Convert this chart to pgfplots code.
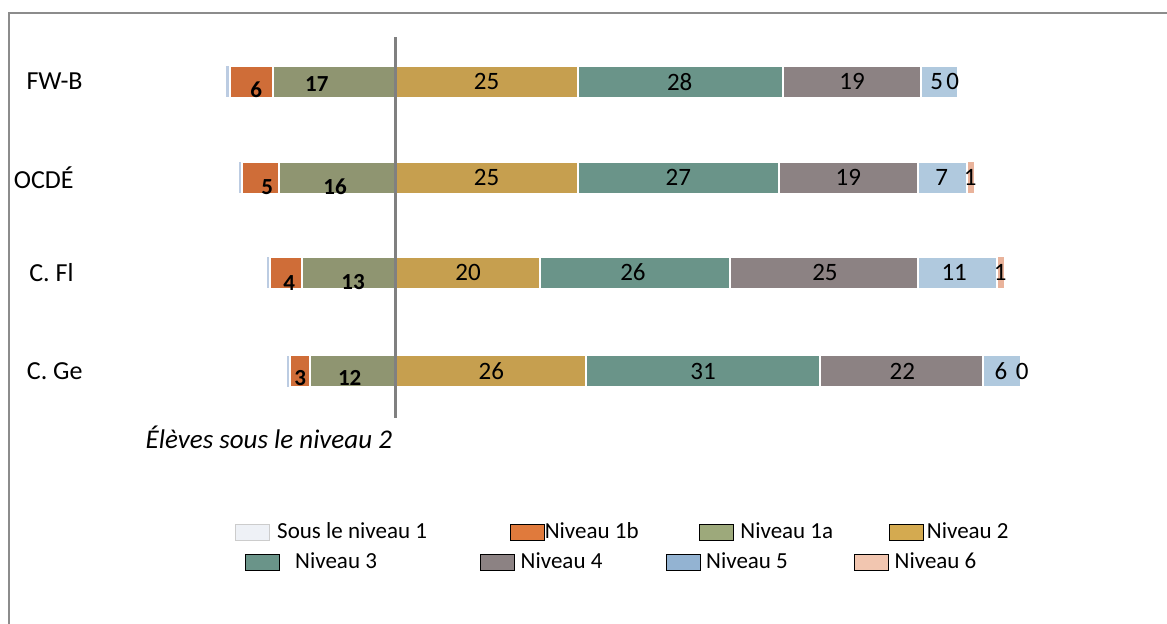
\documentclass[border=0pt]{standalone}
\usepackage{pgfplots}
\pgfplotsset{compat=1.18}
\usepackage{fontspec}
\setmainfont{Carlito}

\definecolor{cS}{HTML}{BCCCE2}
\definecolor{cSleg}{HTML}{EEF1F6}
\definecolor{c1b}{HTML}{CF6D38}
\definecolor{c1bleg}{HTML}{E07A3C}
\definecolor{c1a}{HTML}{8F9571}
\definecolor{c1aleg}{HTML}{9DA97B}
\definecolor{c2}{HTML}{C69F4F}
\definecolor{c2leg}{HTML}{D4AA50}
\definecolor{c3}{HTML}{6A9489}
\definecolor{c4}{HTML}{8C8283}
\definecolor{c5}{HTML}{B0C9DE}
\definecolor{c5leg}{HTML}{93B3D2}
\definecolor{c6}{HTML}{E9B39B}
\definecolor{c6leg}{HTML}{F2C6B0}

\pgfplotsset{
  base/.style={scale only axis, width=438pt, height=190.5pt,
    xmin=-30, xmax=90, ymin=0, ymax=4.01,
    at={(88pt,103pt)}, anchor=south west, clip=false},
  barax/.style={base, hide axis, xbar stacked, bar width=16pt},
  seg/.style={fill=#1, draw=white, line width=1pt},
  legax/.style={base, hide axis,
    legend image code/.code={\fill[##1] (0pt,-4pt) rectangle (17pt,4pt);},
    legend columns=4, legend cell align=left},
}

\begin{document}
\begin{tikzpicture}[font=\fontsize{11.5}{14}\selectfont]
\useasboundingbox (0,0) rectangle (583.5pt,312pt);

% negative part (below level 2)
\begin{axis}[barax]
\addplot[seg=c1a] coordinates {(-16.7,3.54) (-15.9,2.53) (-12.7,1.53) (-11.7,0.49)};
\addplot[seg=c1b] coordinates {(-5.9,3.54) (-5.1,2.53) (-4.4,1.53) (-2.7,0.49)};
\addplot[fill=cS, draw=white, line width=0.6pt] coordinates {(-0.6,3.54) (-0.5,2.53) (-0.45,1.53) (-0.45,0.49)};
\end{axis}

% positive part
\begin{axis}[barax]
\addplot[seg=c2] coordinates {(25.1,3.54) (25.1,2.53) (19.8,1.53) (26.2,0.49)};
\addplot[seg=c3] coordinates {(28.0,3.54) (27.5,2.53) (26.1,1.53) (32.0,0.49)};
\addplot[seg=c4] coordinates {(18.9,3.54) (19.0,2.53) (25.7,1.53) (22.3,0.49)};
\addplot[seg=c5] coordinates {(5.1,3.54) (6.8,2.53) (10.9,1.53) (5.2,0.49)};
\addplot[fill=c6, draw=white, line width=0.6pt] coordinates {(0,3.54) (1.0,2.53) (1.0,1.53) (0,0.49)};
\end{axis}

% legend row 2
\begin{axis}[legax,
  legend style={at={(0.0788,-0.378)}, anchor=west, draw=none, fill=none,
    inner sep=0pt, nodes={inner sep=0pt},
    /tikz/column 1/.style={column sep=7.5pt},
    /tikz/column 2/.style={column sep=51.5pt},
    /tikz/column 3/.style={column sep=3pt},
    /tikz/column 4/.style={column sep=32pt},
    /tikz/column 5/.style={column sep=2.5pt},
    /tikz/column 6/.style={column sep=33pt},
    /tikz/column 7/.style={column sep=3pt}},
  legend entries={Niveau 3, Niveau 4, Niveau 5, Niveau 6},
]
\addlegendimage{fill=c3}
\addlegendimage{fill=c4}
\addlegendimage{fill=c5leg}
\addlegendimage{fill=c6leg}
\end{axis}

% labels, ticks, legend row 1
\begin{axis}[legax, hide axis=false,
  xtick=\empty, ytick={0.49,1.53,2.53,3.54},
  yticklabels={C. Ge, C. Fl\hspace*{4.5pt}, OCDÉ\hspace*{4.5pt}, FW-B},
  major tick length=0pt, axis line style={draw=none},
  yticklabel style={anchor=east, inner sep=0pt, xshift=-46.5pt, font=\fontsize{13}{15}\selectfont},
  legend style={at={(0.0674,-0.299)}, anchor=west, draw=none, fill=none,
    inner sep=0pt, nodes={inner sep=0pt},
    /tikz/column 1/.style={column sep=3.5pt},
    /tikz/column 2/.style={column sep=41.5pt},
    /tikz/column 3/.style={column sep=0pt},
    /tikz/column 4/.style={column sep=30pt},
    /tikz/column 5/.style={column sep=3.5pt},
    /tikz/column 6/.style={column sep=28pt},
    /tikz/column 7/.style={column sep=1.5pt}},
  legend entries={Sous le niveau 1, Niveau 1b, Niveau 1a, Niveau 2},
]
\addlegendimage{fill=cSleg, draw=black!20}
\addlegendimage{fill=c1bleg}
\addlegendimage{fill=c1aleg}
\addlegendimage{fill=c2leg}

\draw[color=black!50, line width=1.5pt] (axis cs:0,0) -- (axis cs:0,4.01);

\addplot[forget plot, only marks, mark=none, nodes near coords, point meta=explicit symbolic,
  every node near coord/.append style={anchor=center, inner sep=0pt, font=\fontsize{12.5}{14}\selectfont}]
  coordinates {
  (12.55,3.54) [25] (39.0,3.54) [28] (62.6,3.54) [19] (74.2,3.54) [5] (76.4,3.54) [0]
  (12.55,2.53) [25] (38.8,2.53) [27] (62.1,2.53) [19] (74.9,2.53) [7] (78.8,2.53) [1]
  (10.0,1.53) [20] (32.6,1.53) [26] (58.9,1.53) [25] (76.6,1.53) [11] (82.9,1.53) [1]
  (13.2,0.49) [26] (42.2,0.49) [31] (69.5,0.49) [22] (83.0,0.49) [6] (85.9,0.49) [0]
  };
\addplot[forget plot, only marks, mark=none, nodes near coords, point meta=explicit symbolic,
  every node near coord/.append style={anchor=center, inner sep=0pt, font=\fontsize{11.5}{14}\selectfont\bfseries}]
  coordinates {
  (-10.7,3.51) [17] (-19.0,3.45) [6]
  (-8.2,2.43) [16] (-17.5,2.43) [5]
  (-5.75,1.43) [13] (-14.5,1.42) [4]
  (-6.2,0.42) [12] (-13.0,0.42) [3]
  };

\node[anchor=west, font=\fontsize{13.5}{16}\selectfont\itshape, inner sep=0pt] at (rel axis cs:-0.035,-0.05) {Élèves sous le niveau 2};
\end{axis}

\draw[color=black!45, line width=1pt] (4.5pt,0pt) -- (4.5pt,305.5pt) -- (583.5pt,305.5pt);
\end{tikzpicture}
\end{document}
